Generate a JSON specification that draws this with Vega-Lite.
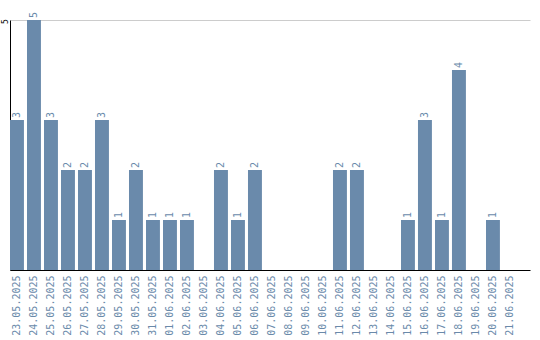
{
  "$schema": "https://vega.github.io/schema/vega-lite/v6.json",
  "width": 520,
  "height": 250,
  "autosize": {"type": "none"},
  "padding": {"left": 10, "top": 20, "right": 10, "bottom": 70},
  "background": "white",
  "config": {"view": {"stroke": null}, "font": "DejaVu Sans Mono"},
  "data": {"values": [
    {"date": "23.05.2025", "value": 3},
    {"date": "24.05.2025", "value": 5},
    {"date": "25.05.2025", "value": 3},
    {"date": "26.05.2025", "value": 2},
    {"date": "27.05.2025", "value": 2},
    {"date": "28.05.2025", "value": 3},
    {"date": "29.05.2025", "value": 1},
    {"date": "30.05.2025", "value": 2},
    {"date": "31.05.2025", "value": 1},
    {"date": "01.06.2025", "value": 1},
    {"date": "02.06.2025", "value": 1},
    {"date": "03.06.2025", "value": 0},
    {"date": "04.06.2025", "value": 2},
    {"date": "05.06.2025", "value": 1},
    {"date": "06.06.2025", "value": 2},
    {"date": "07.06.2025", "value": 0},
    {"date": "08.06.2025", "value": 0},
    {"date": "09.06.2025", "value": 0},
    {"date": "10.06.2025", "value": 0},
    {"date": "11.06.2025", "value": 2},
    {"date": "12.06.2025", "value": 2},
    {"date": "13.06.2025", "value": 0},
    {"date": "14.06.2025", "value": 0},
    {"date": "15.06.2025", "value": 1},
    {"date": "16.06.2025", "value": 3},
    {"date": "17.06.2025", "value": 1},
    {"date": "18.06.2025", "value": 4},
    {"date": "19.06.2025", "value": 0},
    {"date": "20.06.2025", "value": 1},
    {"date": "21.06.2025", "value": 0}
  ]},
  "encoding": {
    "x": {
      "field": "date", "type": "nominal", "sort": null,
      "scale": {"paddingInner": 0.18, "paddingOuter": 0.385, "align": 0},
      "axis": {"title": null, "labelAngle": -90, "ticks": false, "domainColor": "black", "domainWidth": 1,
               "labelColor": "#6a8aaa", "labelFont": "DejaVu Sans Mono", "labelFontSize": 10, "labelPadding": 5}
    },
    "y": {
      "field": "value", "type": "quantitative",
      "scale": {"domain": [0, 5], "nice": false},
      "axis": {"title": null, "values": [5], "ticks": false, "labelAngle": -90, "labelAlign": "center",
               "labelBaseline": "alphabetic", "labelFlush": false, "labelBound": false, "labelColor": "black",
               "labelFont": "DejaVu Sans Mono", "labelFontSize": 8, "labelPadding": 3, "labelOffset": 1,
               "domainColor": "black", "gridColor": "#cccccc", "grid": true}
    }
  },
  "layer": [
    {"mark": {"type": "bar", "color": "#6a8aab"}},
    {
      "transform": [{"filter": "datum.value > 0"}],
      "mark": {"type": "text", "angle": -90, "align": "left", "baseline": "middle", "dx": 2,
               "font": "DejaVu Sans Mono", "fontSize": 10, "color": "#6a8aab"},
      "encoding": {"text": {"field": "value", "type": "quantitative"}}
    }
  ]
}
